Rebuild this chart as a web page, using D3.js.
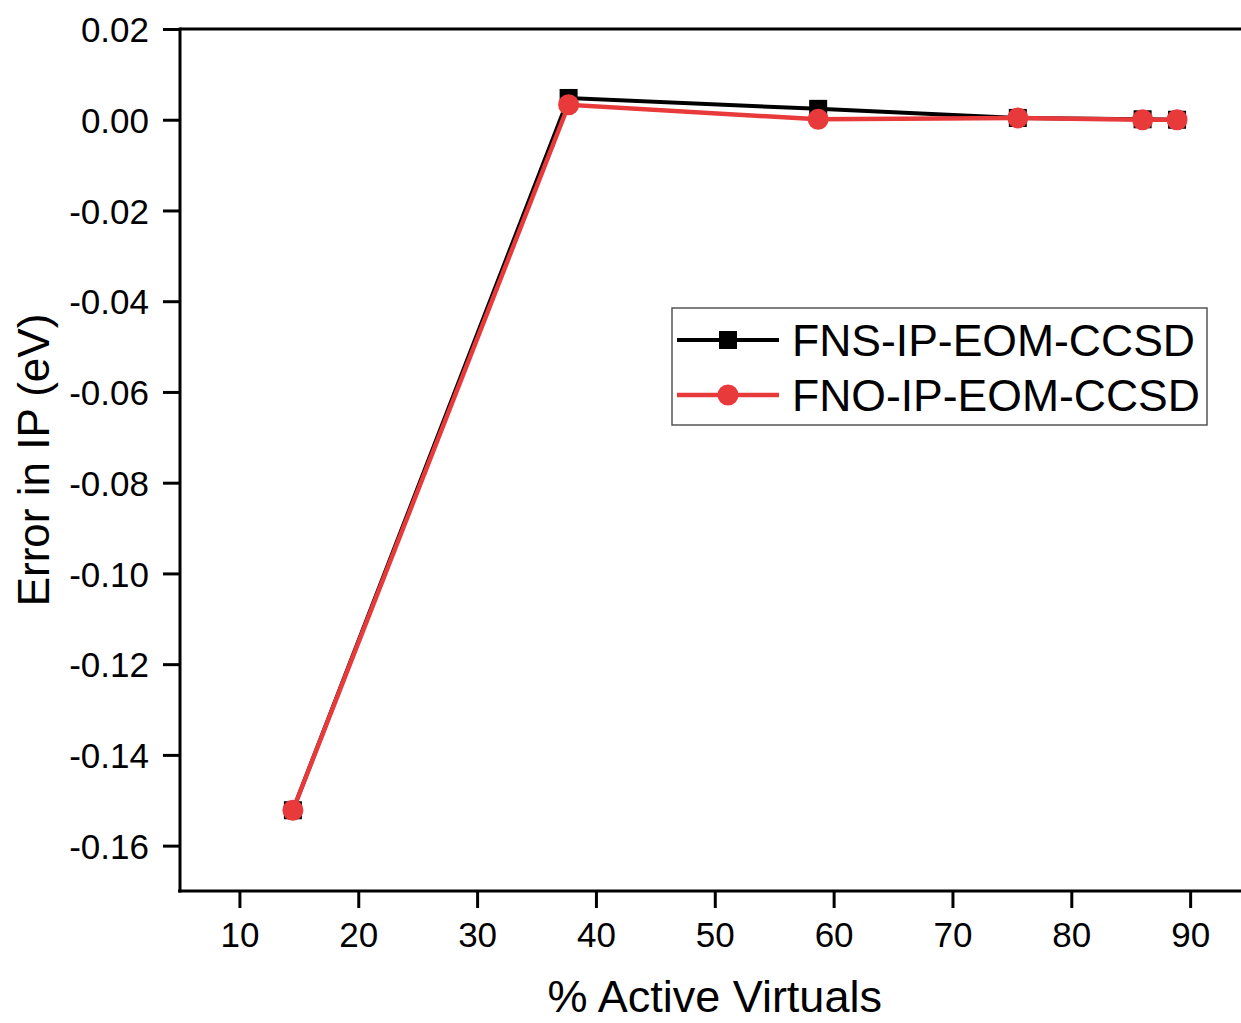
<!DOCTYPE html>
<html>
<head>
<meta charset="utf-8">
<script src="https://cdn.jsdelivr.net/npm/d3@7"></script>
<style>
  html, body { margin: 0; padding: 0; background: #fff; }
  svg { display: block; }
  text { font-family: "Liberation Sans", Arial, sans-serif; fill: #000; }
</style>
</head>
<body>
<script>
// % of active virtual orbitals
const activeVirtuals = [14.5, 37.7, 58.7, 75.5, 86.0, 88.9];
// Error in IP (eV) for each truncation scheme
const fnsErrors = [-0.1522, 0.0048, 0.0024, 0.0004, 0.0001, 0.0000];
const fnoErrors = [-0.1522, 0.0033, 0.0001, 0.0004, 0.0000, 0.0000];
const seriesNames = ["FNS-IP-EOM-CCSD", "FNO-IP-EOM-CCSD"];
const xTicks = [10, 20, 30, 40, 50, 60, 70, 80, 90];
const yTicks = [0.02, 0.00, -0.02, -0.04, -0.06, -0.08, -0.10, -0.12, -0.14, -0.16];

(function () {
const W = 1241, H = 1023;
const plotLeft = 180, plotTop = 29, plotBottom = 891;
const red = "#e8393b";

const svg = d3.select("body").append("svg").attr("width", W).attr("height", H);

const x = d3.scaleLinear().domain([5, 95]).range([plotLeft, plotLeft + 90 * 11.884]);
const y = d3.scaleLinear().domain([-0.17, 0.02]).range([plotBottom, plotTop]);

// Axes
const xAxis = d3.axisBottom(x).tickValues(xTicks).tickSize(17).tickPadding(11)
  .tickFormat(d3.format("d"));
const gx = svg.append("g").attr("transform", `translate(0,${plotBottom})`).call(xAxis);
gx.select(".domain").attr("stroke-width", 3).attr("d", `M${plotLeft - 2},0H${W + 10}`);
gx.selectAll(".tick line").attr("stroke-width", 3);
gx.selectAll(".tick text").attr("font-size", 35).attr("dy", "0.8em");

const fmtY = d => d3.format(".2f")(d).replace("\u2212", "-");
const yAxis = d3.axisLeft(y).tickValues(yTicks).tickSize(17).tickPadding(14)
  .tickFormat(fmtY);
const gy = svg.append("g").attr("transform", `translate(${plotLeft},0)`).call(yAxis);
gy.select(".domain").attr("stroke-width", 3).attr("d", `M0,${plotTop - 1.5}V${plotBottom + 1.5}`);
gy.selectAll(".tick line").attr("stroke-width", 3);
gy.selectAll(".tick text").attr("font-size", 35).attr("dy", "0.36em");

// top frame line
svg.append("line")
  .attr("x1", plotLeft).attr("x2", W + 10)
  .attr("y1", y(0.02)).attr("y2", y(0.02))
  .attr("stroke", "#000").attr("stroke-width", 3);

// Axis titles
svg.append("text")
  .attr("x", (plotLeft + x(95)) / 2).attr("y", 1012)
  .attr("text-anchor", "middle").attr("font-size", 45)
  .text("% Active Virtuals");
svg.append("text")
  .attr("transform", `translate(49,${(plotTop + plotBottom) / 2}) rotate(-90)`)
  .attr("text-anchor", "middle").attr("font-size", 44)
  .text("Error in IP (eV)");

const line = d3.line().x(d => x(d[0])).y(d => y(d[1]));
const fns = activeVirtuals.map((v, i) => [v, fnsErrors[i]]);
const fno = activeVirtuals.map((v, i) => [v, fnoErrors[i]]);

// FNS series: black line with squares
svg.append("path").datum(fns).attr("d", line)
  .attr("fill", "none").attr("stroke", "#000").attr("stroke-width", 4);
svg.selectAll(".sq").data(fns).enter().append("rect")
  .attr("x", d => x(d[0]) - 9).attr("y", d => y(d[1]) - 9)
  .attr("width", 18).attr("height", 18).attr("fill", "#000");

// FNO series: red line with circles
svg.append("path").datum(fno).attr("d", line)
  .attr("fill", "none").attr("stroke", red).attr("stroke-width", 4.5);
svg.selectAll(".ci").data(fno).enter().append("circle")
  .attr("cx", d => x(d[0])).attr("cy", d => y(d[1])).attr("r", 10.5)
  .attr("fill", red);

// Legend
const lg = svg.append("g");
lg.append("rect").attr("x", 672).attr("y", 308).attr("width", 535).attr("height", 117)
  .attr("fill", "#fff").attr("stroke", "#555").attr("stroke-width", 1.5);
const rows = [340, 395];
lg.append("line").attr("x1", 677).attr("x2", 779).attr("y1", rows[0]).attr("y2", rows[0])
  .attr("stroke", "#000").attr("stroke-width", 4);
lg.append("rect").attr("x", 728 - 9).attr("y", rows[0] - 9).attr("width", 18).attr("height", 18)
  .attr("fill", "#000");
lg.append("line").attr("x1", 677).attr("x2", 779).attr("y1", rows[1]).attr("y2", rows[1])
  .attr("stroke", red).attr("stroke-width", 4.5);
lg.append("circle").attr("cx", 728).attr("cy", rows[1]).attr("r", 10.5).attr("fill", red);
seriesNames.forEach((n, i) => {
  lg.append("text").attr("x", 792).attr("y", rows[i]).attr("dy", "0.36em")
    .attr("font-size", 44.5).text(n);
});
})();
</script>
</body>
</html>
